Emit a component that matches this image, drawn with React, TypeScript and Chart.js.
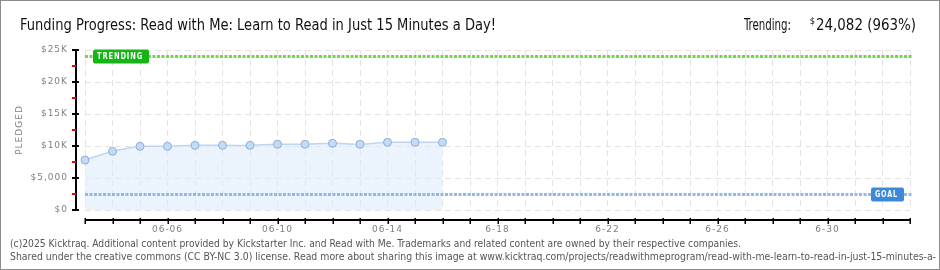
import React, { useEffect, useRef } from 'react';
import { Chart, registerables } from 'chart.js';

Chart.register(...registerables);

const DAYS = [
  '06-03', '06-04', '06-05', '06-06', '06-07', '06-08', '06-09', '06-10', '06-11', '06-12',
  '06-13', '06-14', '06-15', '06-16', '06-17', '06-18', '06-19', '06-20', '06-21', '06-22',
  '06-23', '06-24', '06-25', '06-26', '06-27', '06-28', '06-29', '06-30', '07-01', '07-02', '07-03',
];
const PLEDGED = [7800, 9170, 9950, 9950, 10100, 10100, 10100, 10270, 10270, 10420, 10270, 10580, 10580, 10580];
const GOAL = 2500;
const TRENDING = 24082;
const Y_MAX = 25000;
const Y_STEP = 5000;
const Y_TICK_LABELS = ['$0', '$5,000', '$10K', '$15K', '$20K', '$25K'];
const X_TICK_DAYS = ['06-06', '06-10', '06-14', '06-18', '06-22', '06-26', '06-30'];
const X_TICK_TEXT = ['06-06', '06-10', '06-14', '6-18', '6-22', '6-26', '6-30'];

const TITLE = 'Funding Progress: Read with Me: Learn to Read in Just 15 Minutes a Day!';
const TRENDING_LABEL = 'Trending:';
const TRENDING_VALUE = '24,082 (963%)';
const FOOTER_LINES = [
  '(c)2025 Kicktraq. Additional content provided by Kickstarter Inc. and Read with Me. Trademarks and related content are owned by their respective companies.',
  'Shared under the creative commons (CC BY-NC 3.0) license. Read more about sharing this image at www.kicktraq.com/projects/readwithmeprogram/read-with-me-learn-to-read-in-just-15-minutes-a-',
];

const decorPlugin = {
  id: 'decor',
  beforeDraw(chart: any) {
    const ctx = chart.ctx;
    ctx.save();
    ctx.fillStyle = '#ffffff';
    ctx.fillRect(0, 0, chart.width, chart.height);
    ctx.restore();
    ctx.letterSpacing = '1px';
  },
  afterDatasetsDraw(chart: any) {
    const ctx = chart.ctx;
    const ys = chart.scales.y;
    const area = chart.chartArea;
    ctx.save();
    ctx.letterSpacing = '0px';
    ctx.lineWidth = 3;
    ctx.setLineDash([3, 1.5]);
    const ty = Math.round(ys.getPixelForValue(TRENDING)) + 0.5;
    ctx.strokeStyle = '#74d455';
    ctx.beginPath();
    ctx.moveTo(area.left, ty);
    ctx.lineTo(area.right + 2, ty);
    ctx.stroke();
    const gy = Math.round(ys.getPixelForValue(GOAL)) + 0.5;
    ctx.strokeStyle = '#93b9e3';
    ctx.beginPath();
    ctx.moveTo(area.left, gy);
    ctx.lineTo(area.right + 2, gy);
    ctx.stroke();
    ctx.setLineDash([]);

    ctx.fillStyle = '#14b514';
    ctx.beginPath();
    ctx.roundRect(area.left + 8, ty - 7, 56, 14, 2);
    ctx.fill();
    ctx.fillStyle = '#3d89d8';
    ctx.beginPath();
    ctx.roundRect(area.right - 39, gy - 7, 33, 14, 2);
    ctx.fill();
    ctx.fillStyle = '#ffffff';
    ctx.font = 'bold 8px "DejaVu Sans"';
    ctx.textBaseline = 'middle';
    ctx.textAlign = 'left';
    ctx.letterSpacing = '1px';
    ctx.fillText('TRENDING', area.left + 12, ty + 0.5, 46);
    ctx.fillText('GOAL', area.right - 35, gy + 0.5, 23);
    ctx.restore();
  },
  afterDraw(chart: any) {
    const ctx = chart.ctx;
    const ys = chart.scales.y;
    const xs = chart.scales.x;
    const area = chart.chartArea;
    ctx.save();
    ctx.letterSpacing = '0px';

    const ax = area.left - 9;
    const yTop = ys.getPixelForValue(Y_MAX);
    const yBot = ys.getPixelForValue(0);
    ctx.strokeStyle = '#000000';
    ctx.lineWidth = 2;
    ctx.beginPath();
    ctx.moveTo(ax, yTop);
    ctx.lineTo(ax, yBot + 1);
    ctx.stroke();
    const ticks = ys.ticks;
    for (let i = 0; i < ticks.length; i++) {
      const py = Math.round(ys.getPixelForValue(ticks[i].value));
      ctx.strokeStyle = '#000000';
      ctx.beginPath();
      ctx.moveTo(ax - 4, py);
      ctx.lineTo(ax + 3, py);
      ctx.stroke();
      if (i < ticks.length - 1) {
        const my = Math.round(ys.getPixelForValue((ticks[i].value + ticks[i + 1].value) / 2));
        ctx.strokeStyle = '#ee0000';
        ctx.beginPath();
        ctx.moveTo(ax - 4, my);
        ctx.lineTo(ax, my);
        ctx.stroke();
      }
    }

    const axY = area.bottom + 10;
    const x0 = xs.getPixelForValue(0);
    const x1 = xs.getPixelForValue(DAYS.length - 1);
    ctx.strokeStyle = '#000000';
    ctx.lineWidth = 2;
    ctx.beginPath();
    ctx.moveTo(x0, axY);
    ctx.lineTo(x1 + 1, axY);
    ctx.stroke();
    ctx.lineWidth = 1.5;
    for (let i = 0; i < DAYS.length; i++) {
      const px = Math.round(xs.getPixelForValue(i)) + 0.25;
      ctx.beginPath();
      ctx.moveTo(px, axY - 2);
      ctx.lineTo(px, axY + 4);
      ctx.stroke();
    }

    ctx.save();
    ctx.translate(20, (yTop + yBot) / 2);
    ctx.rotate(-Math.PI / 2);
    ctx.fillStyle = '#808080';
    ctx.font = '9px "DejaVu Sans"';
    ctx.letterSpacing = '1px';
    ctx.textAlign = 'center';
    ctx.textBaseline = 'middle';
    ctx.fillText('PLEDGED', 0, 0);
    ctx.restore();

    ctx.letterSpacing = '0px';
    ctx.fillStyle = '#111111';
    ctx.font = '15px "DejaVu Sans Condensed"';
    ctx.textBaseline = 'alphabetic';
    ctx.textAlign = 'left';
    ctx.fillText(TITLE, 20, 30, 476);

    ctx.textAlign = 'right';
    ctx.fillText(TRENDING_VALUE, 916, 30, 100);
    const vw = Math.min(100, ctx.measureText(TRENDING_VALUE).width);
    ctx.font = '9px "DejaVu Sans Condensed"';
    ctx.fillText('$', 916 - vw - 1, 24);
    ctx.font = '15px "DejaVu Sans Condensed"';
    ctx.textAlign = 'left';
    ctx.fillText(TRENDING_LABEL, 744, 30, 47);

    ctx.fillStyle = '#555555';
    ctx.font = '10px "DejaVu Sans Condensed"';
    ctx.beginPath();
    ctx.rect(1, 1, chart.width - 3, chart.height - 2);
    ctx.clip();
    const targets = [731, 926];
    const baselines = [247, 260];
    for (let i = 0; i < FOOTER_LINES.length; i++) {
      const w = ctx.measureText(FOOTER_LINES[i]).width;
      const sx = targets[i] / w;
      ctx.save();
      ctx.scale(sx, 1);
      ctx.fillText(FOOTER_LINES[i], 10 / sx, baselines[i]);
      ctx.restore();
    }
    ctx.restore();

    ctx.save();
    ctx.strokeStyle = '#8c8c8c';
    ctx.lineWidth = 1;
    ctx.strokeRect(0.5, 0.5, chart.width - 1, chart.height - 1);
    ctx.restore();
  },
};

export default function App() {
  const ref = useRef<HTMLCanvasElement | null>(null);
  useEffect(() => {
    document.body.style.margin = '0';
    if (!ref.current) return;
    const values = DAYS.map((_, i) => (i < PLEDGED.length ? PLEDGED[i] : null));
    const chart = new Chart(ref.current, {
      type: 'line',
      data: {
        labels: DAYS,
        datasets: [
          {
            data: values,
            borderColor: '#bcd6f1',
            borderWidth: 1.5,
            backgroundColor: 'rgba(222,236,251,0.6)',
            fill: 'origin',
            tension: 0.15,
            pointRadius: 4,
            pointBackgroundColor: '#c3dbf6',
            pointBorderColor: '#8eaed3',
            pointBorderWidth: 1,
            spanGaps: false,
          },
        ],
      },
      options: {
        animation: false,
        responsive: false,
        devicePixelRatio: 1,
        layout: { padding: { top: 50, right: 30, left: 0, bottom: 0 } },
        plugins: {
          legend: { display: false },
          tooltip: { enabled: false },
          title: { display: false },
        },
        scales: {
          x: {
            type: 'category',
            offset: false,
            afterFit: (s: any) => {
              s.height = 60;
            },
            grid: { color: '#e3e3e3', lineWidth: 1, drawTicks: false, offset: false },
            border: { display: false, dash: [6, 4] },
            ticks: {
              autoSkip: false,
              maxRotation: 0,
              minRotation: 0,
              padding: 14,
              color: '#808080',
              font: { family: 'DejaVu Sans', size: 9 },
              callback: (_v: any, i: number) => {
                const k = X_TICK_DAYS.indexOf(DAYS[i]);
                return k >= 0 ? X_TICK_TEXT[k] : '';
              },
            },
          },
          y: {
            min: 0,
            max: Y_MAX,
            afterFit: (s: any) => {
              s.width = 85;
            },
            grid: { color: '#e3e3e3', lineWidth: 1, drawTicks: false },
            border: { display: false, dash: [6, 4] },
            ticks: {
              stepSize: Y_STEP,
              padding: 17,
              color: '#808080',
              font: { family: 'DejaVu Sans', size: 9 },
              callback: (_v: any, i: number) => Y_TICK_LABELS[i],
            },
          },
        },
      },
      plugins: [decorPlugin],
    });
    return () => chart.destroy();
  }, []);
  return <canvas ref={ref} width={940} height={270} style={{ display: 'block' }} />;
}
